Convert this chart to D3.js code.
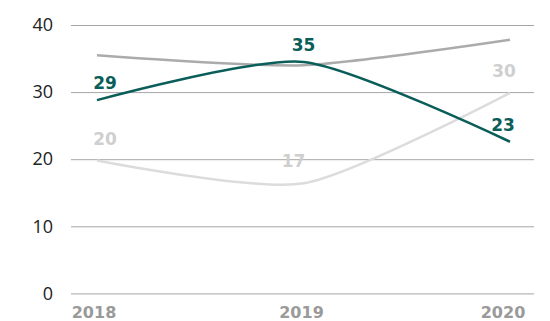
<!DOCTYPE html>
<html>
<head>
<meta charset="utf-8">
<script src="https://cdn.jsdelivr.net/npm/d3@7"></script>
<style>
  body { margin: 0; background: #fff; }
  svg { display: block; }
</style>
</head>
<body>
<div id="chart"></div>
<script>
// data
var years = [2018, 2019, 2020];
var greenValues = [28.8, 34.5, 22.6];
var greenLabels = ["29", "35", "23"];
var lightValues = [19.8, 16.4, 29.9];
var lightLabels = ["20", "17", "30"];
var midValues = [35.5, 34.0, 37.8];
var yTicks = [0, 10, 20, 30, 40];

var width = 550, height = 321;

var svg = d3.select("#chart")
            .append("svg")
            .attr("width", width)
            .attr("height", height);

var x = d3.scalePoint().domain(years).range([97, 510]);
var y = d3.scaleLinear().domain([0, 40]).range([293.4, 25]);

// gridlines + y labels
var yAxis = svg.append("g")
   .attr("transform", "translate(71,0)")
   .call(d3.axisLeft(y).tickValues(yTicks).tickSize(-463).tickPadding(18));

yAxis.select(".domain").remove();
yAxis.selectAll(".tick line")
     .attr("stroke", "#a6a6a6")
     .attr("stroke-width", 1);
yAxis.selectAll(".tick text")
     .attr("fill", "#222")
     .style("font-family", "'Open Sans', sans-serif")
     .style("font-size", "18px");

// x labels
var xLabelShift = [-3, -2, -7];
svg.selectAll(".xlab")
   .data(years)
   .enter()
   .append("text")
   .attr("class", "xlab")
   .attr("x", function(d, i){ return x(d) + xLabelShift[i]; })
   .attr("y", 318)
   .attr("text-anchor", "middle")
   .attr("fill", "#9a9a9a")
   .style("font-family", "'DejaVu Sans', sans-serif")
   .style("font-weight", "bold")
   .style("font-size", "16px")
   .text(function(d){ return d; });

var line = d3.line()
             .x(function(d, i){ return x(years[i]); })
             .y(function(d){ return y(d); })
             .curve(d3.curveCardinal.tension(0.3));

var series = [
  {values: midValues, color: "#ababab", labels: null, labelColor: null, dy: 0, shift: null},
  {values: lightValues, color: "#dcdcdc", labels: lightLabels, labelColor: "#cfcfcf", dy: -16, shift: [8, -10, -6]},
  {values: greenValues, color: "#0a5e59", labels: greenLabels, labelColor: "#0a5e59", dy: -11, shift: [8, 0, -7]}
];

series.forEach(function(s){
  svg.append("path")
     .attr("d", line(s.values))
     .attr("fill", "none")
     .attr("stroke", s.color)
     .attr("stroke-width", 2.5);

  if (s.labels) {
    svg.selectAll(null)
       .data(s.values)
       .enter()
       .append("text")
       .attr("x", function(d, i){ return x(years[i]) + s.shift[i]; })
       .attr("y", function(d){ return y(d) + s.dy; })
       .attr("text-anchor", "middle")
       .attr("fill", s.labelColor)
       .style("font-family", "'DejaVu Sans', sans-serif")
       .style("font-weight", "bold")
       .style("font-size", "17px")
       .text(function(d, i){ return s.labels[i]; });
  }
});
</script>
</body>
</html>
